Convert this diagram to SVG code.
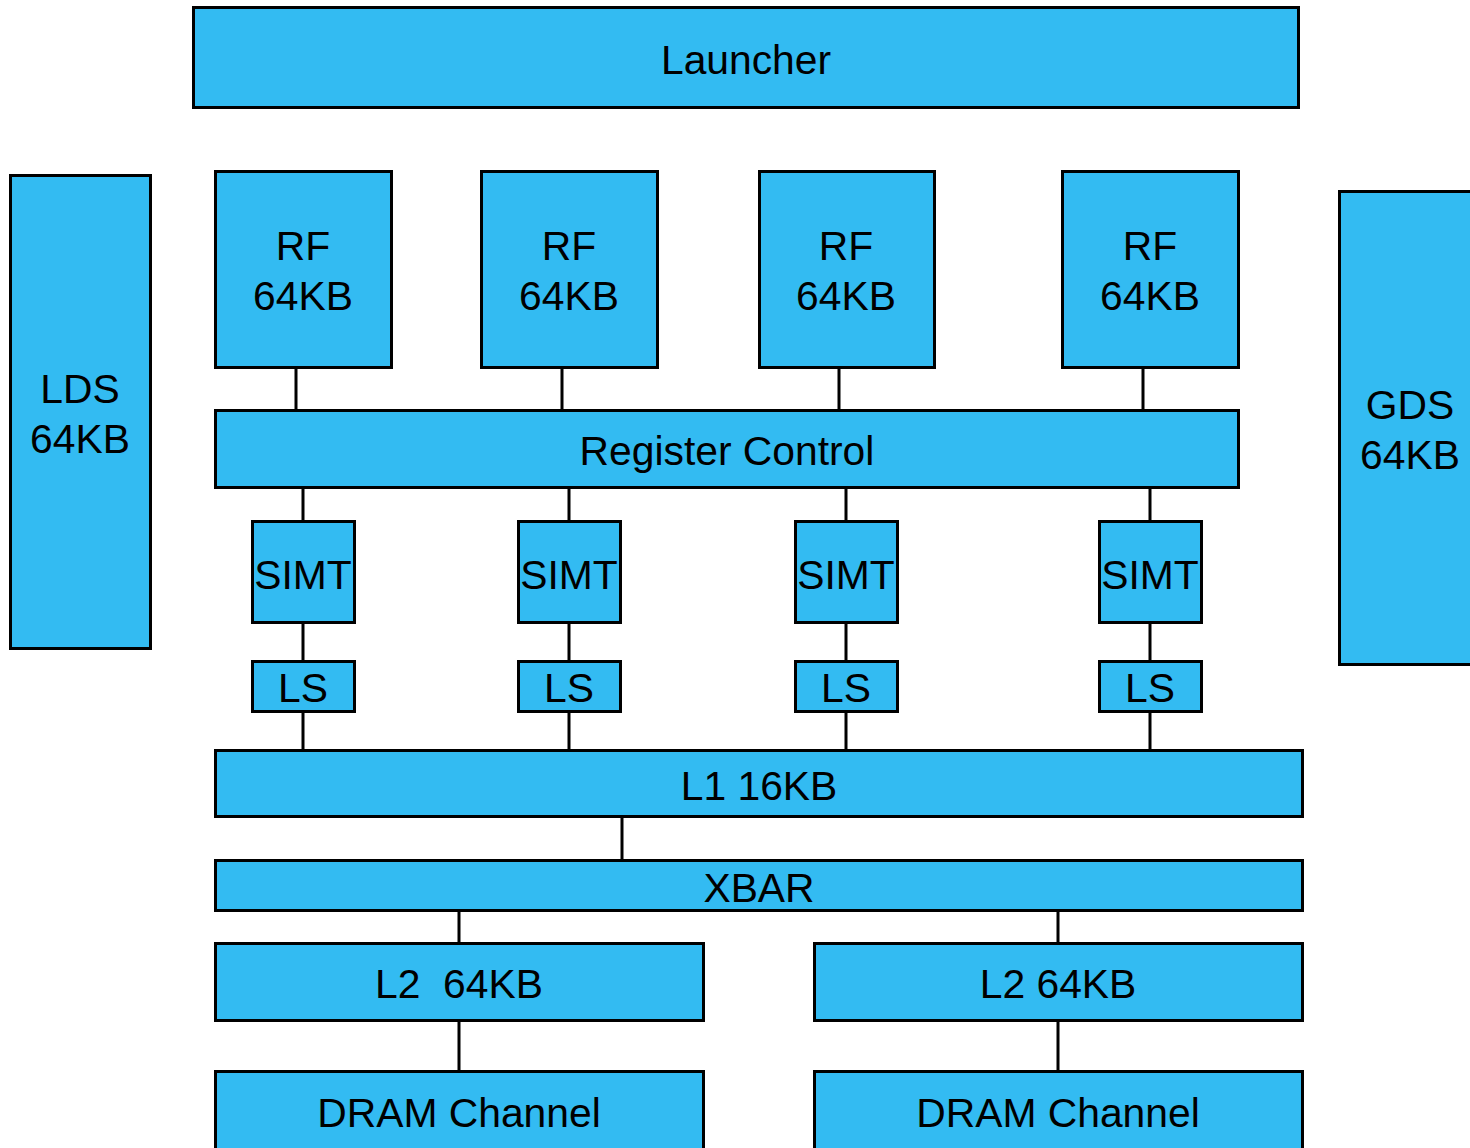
<svg xmlns="http://www.w3.org/2000/svg" width="1470" height="1148" viewBox="0 0 1470 1148">
<style>
.b{fill:#33BBF2;stroke:#000;stroke-width:3}
.t{font-family:"Liberation Sans",Arial,sans-serif;font-size:40.8px;fill:#000;text-anchor:middle;white-space:pre}
.c{stroke:#000;stroke-width:3;fill:none}
</style>
<rect width="1470" height="1148" fill="#fff"/>
<g id="connectors">
<path class="c" d="M296 367V410M562 367V410M839 367V410M1143 367V410"/>
<path class="c" d="M303 487V521M569 487V521M846 487V521M1150 487V521"/>
<path class="c" d="M303 622V661M569 622V661M846 622V661M1150 622V661"/>
<path class="c" d="M303 711V750M569 711V750M846 711V750M1150 711V750"/>
<path class="c" d="M622 816V860"/>
<path class="c" d="M459 910V943M1058 910V943"/>
<path class="c" d="M459 1020V1071M1058 1020V1071"/>
</g>
<g id="launcher"><rect class="b" x="193.5" y="7.5" width="1105" height="100"/><text class="t" x="746" y="74">Launcher</text></g>
<g id="lds"><rect class="b" x="10.5" y="175.5" width="140" height="473"/><text class="t" x="80" y="403">LDS</text><text class="t" x="80" y="453">64KB</text></g>
<g id="gds"><rect class="b" x="1339.5" y="191.5" width="141" height="473"/><text class="t" x="1410" y="419">GDS</text><text class="t" x="1410" y="469">64KB</text></g>
<g id="rf1"><rect class="b" x="215.5" y="171.5" width="176" height="196"/><text class="t" x="303" y="260">RF</text><text class="t" x="303" y="310">64KB</text></g>
<g id="rf2"><rect class="b" x="481.5" y="171.5" width="176" height="196"/><text class="t" x="569" y="260">RF</text><text class="t" x="569" y="310">64KB</text></g>
<g id="rf3"><rect class="b" x="759.5" y="171.5" width="175" height="196"/><text class="t" x="846" y="260">RF</text><text class="t" x="846" y="310">64KB</text></g>
<g id="rf4"><rect class="b" x="1062.5" y="171.5" width="176" height="196"/><text class="t" x="1150" y="260">RF</text><text class="t" x="1150" y="310">64KB</text></g>
<g id="regctl"><rect class="b" x="215.5" y="410.5" width="1023" height="77"/><text class="t" x="727" y="465">Register Control</text></g>
<g id="simt1"><rect class="b" x="252.5" y="521.5" width="102" height="101"/><text class="t" x="303" y="589">SIMT</text></g>
<g id="simt2"><rect class="b" x="518.5" y="521.5" width="102" height="101"/><text class="t" x="569" y="589">SIMT</text></g>
<g id="simt3"><rect class="b" x="795.5" y="521.5" width="102" height="101"/><text class="t" x="846" y="589">SIMT</text></g>
<g id="simt4"><rect class="b" x="1099.5" y="521.5" width="102" height="101"/><text class="t" x="1150" y="589">SIMT</text></g>
<g id="ls1"><rect class="b" x="252.5" y="661.5" width="102" height="50"/><text class="t" x="303" y="702">LS</text></g>
<g id="ls2"><rect class="b" x="518.5" y="661.5" width="102" height="50"/><text class="t" x="569" y="702">LS</text></g>
<g id="ls3"><rect class="b" x="795.5" y="661.5" width="102" height="50"/><text class="t" x="846" y="702">LS</text></g>
<g id="ls4"><rect class="b" x="1099.5" y="661.5" width="102" height="50"/><text class="t" x="1150" y="702">LS</text></g>
<g id="l1"><rect class="b" x="215.5" y="750.5" width="1087" height="66"/><text class="t" x="759" y="800">L1 16KB</text></g>
<g id="xbar"><rect class="b" x="215.5" y="860.5" width="1087" height="50"/><text class="t" x="759" y="902">XBAR</text></g>
<g id="l2a"><rect class="b" x="215.5" y="943.5" width="488" height="77"/><text class="t" x="459" y="998">L2  64KB</text></g>
<g id="l2b"><rect class="b" x="814.5" y="943.5" width="488" height="77"/><text class="t" x="1058" y="998">L2 64KB</text></g>
<g id="dram1"><rect class="b" x="215.5" y="1071.5" width="488" height="90"/><text class="t" x="459" y="1127">DRAM Channel</text></g>
<g id="dram2"><rect class="b" x="814.5" y="1071.5" width="488" height="90"/><text class="t" x="1058" y="1127">DRAM Channel</text></g>
</svg>
